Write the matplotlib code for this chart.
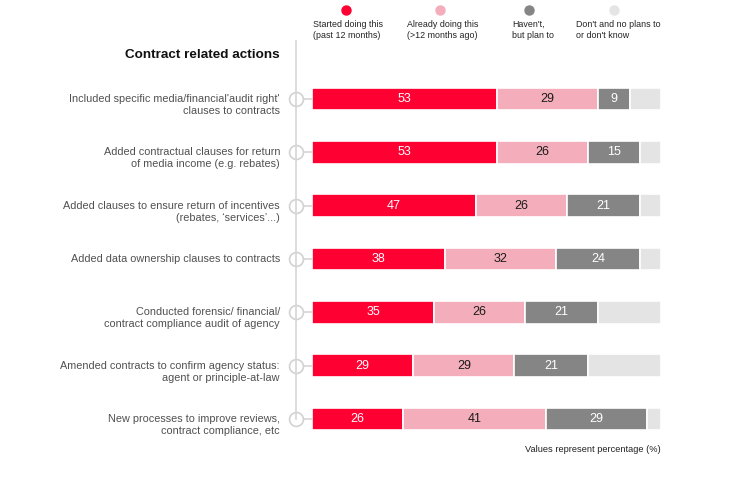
import matplotlib
matplotlib.use('Agg')
import matplotlib.pyplot as plt
from matplotlib import transforms
from matplotlib.lines import Line2D

plt.rcParams['font.family'] = ['Liberation Sans', 'DejaVu Sans']

actions = [
    "Included specific media/financial'audit right'\nclauses to contracts",
    "Added contractual clauses for return\nof media income (e.g. rebates)",
    "Added clauses to ensure return of incentives\n(rebates, \u2018services\u2019...)",
    "Added data ownership clauses to contracts",
    "Conducted forensic/ financial/\ncontract compliance audit of agency",
    "Amended contracts to confirm agency status:\nagent or principle-at-law",
    "New processes to improve reviews,\ncontract compliance, etc",
]
started = [53, 53, 47, 38, 35, 29, 26]
already = [29, 26, 26, 32, 26, 29, 41]
plan_to = [9, 15, 21, 24, 21, 21, 29]
no_plans = [9, 6, 6, 6, 18, 21, 4]

series_names = [
    "Started doing this\n(past 12 months)",
    "Already doing this\n(>12 months ago)",
    "Haven't,\nbut plan to",
    "Don't and no plans to\nor don't know",
]
colors = ['#FF0033', '#F4AEBB', '#858585', '#E4E4E4']
text_colors = ['white', '#1a1a1a', 'white', None]

W, H = 750, 479
fig = plt.figure(figsize=(W / 100, H / 100), dpi=100)

# bars axes: x 312..661 px, row centres 99 .. 419 px
row_gap = (419 - 99) / 6
top_px = 99 - row_gap / 2
bot_px = 419 + row_gap / 2
ax = fig.add_axes([312 / W, 1 - bot_px / H, (661 - 312) / W, (bot_px - top_px) / H])
ax.set_xlim(0, 100)
ax.set_ylim(len(actions) - 0.5, -0.5)
ax.axis('off')

rows = list(range(len(actions)))
left = [0] * len(actions)
for vals, col, tcol in zip([started, already, plan_to, no_plans], colors, text_colors):
    ax.barh(rows, vals, left=left, height=0.42, color=col,
            edgecolor='white', linewidth=1.2)
    if tcol:
        for r, v, l in zip(rows, vals, left):
            ax.text(l + v / 2, r, str(v), ha='center', va='center',
                    color=tcol, fontsize=9)
    left = [a + b for a, b in zip(left, vals)]

# timeline on the left
tr = transforms.blended_transform_factory(fig.transFigure, ax.transData)
fig.add_artist(Line2D([296 / W, 296 / W], [1 - 41 / H, 1 - 419 / H],
                      color='#D6D6D6', lw=1.2, zorder=1))
for r, label in zip(rows, actions):
    ax.plot([296 / W, 312 / W], [r, r], color='#D6D6D6', lw=1.2,
            transform=tr, clip_on=False, zorder=1)
    ax.plot([296 / W], [r], marker='o', ms=10, mfc='white', mec='#D2D2D2',
            mew=1.2, transform=tr, clip_on=False, zorder=2)
    # first line of the label sits level with the bar, the rest below
    for j, line in enumerate(label.split('\n')):
        ax.annotate(line, xy=(280 / W, r), xycoords=tr, xytext=(0, -12 * j),
                    textcoords='offset pixels', ha='right', va='center',
                    fontsize=7.8, color='#505050', annotation_clip=False)

fig.text(280 / W, 1 - 55 / H, 'Contract related actions', ha='right',
         va='center', fontsize=9.7, fontweight='bold', color='#111111')

# legend
dot_x = [346, 440, 529, 614]
txt_x = [313, 407, 512, 576]
for dx, tx, col, name in zip(dot_x, txt_x, colors, series_names):
    fig.add_artist(Line2D([dx / W], [1 - 10 / H], marker='o', ms=6.5,
                          mfc=col, mec=col, lw=0))
    fig.text(tx / W, 1 - 20 / H, name, ha='left', va='top', fontsize=6.4,
             color='#222222', linespacing=1.35)

fig.text(661 / W, 1 - 450 / H, 'Values represent percentage (%)', ha='right',
         va='center', fontsize=6.7, color='#222222')

fig.savefig('out.png', dpi=100)
